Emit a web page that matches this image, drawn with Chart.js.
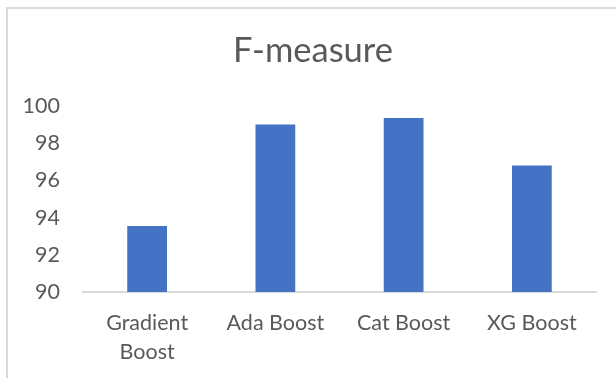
<!DOCTYPE html>
<html>
<head>
<meta charset="utf-8">
<script src="https://cdn.jsdelivr.net/npm/chart.js@4.4.0/dist/chart.umd.min.js"></script>
<style>
  html, body { margin: 0; padding: 0; background: #fff; }
  #wrap { position: relative; width: 616px; height: 378px; }
  #frame { position: absolute; left: 6px; top: 7px; right: 0; bottom: 0;
           border-left: 2px solid #d9d9d9; border-top: 2px solid #d9d9d9; }
  canvas { position: absolute; left: 0; top: 0; }
</style>
</head>
<body>
<div id="wrap">
  <div id="frame"></div>
  <canvas id="chart" width="616" height="378"></canvas>
</div>
<script>
const categories = [['Gradient', 'Boost'], 'Ada Boost', 'Cat Boost', 'XG Boost'];
const fMeasure = [93.55, 99.0, 99.35, 96.8];
const yTicks = { min: 90, max: 100, step: 2 };

const textColor = '#595959';
const fontFamily = 'Lato, "Open Sans", sans-serif';

const ctx = document.getElementById('chart');
new Chart(ctx, {
  type: 'bar',
  data: {
    labels: categories,
    datasets: [{
      label: 'F-measure',
      data: fMeasure,
      backgroundColor: '#4472C4',
      borderWidth: 0,
      barPercentage: 0.31,
      categoryPercentage: 1
    }]
  },
  options: {
    responsive: false,
    animation: false,
    layout: { padding: { left: 10, right: 0, top: 0, bottom: 0 } },
    plugins: {
      legend: { display: false },
      tooltip: { enabled: false },
      title: {
        display: true,
        text: 'F-measure',
        color: textColor,
        font: { family: fontFamily, size: 34.5, weight: 'normal', lineHeight: 1.2 },
        padding: { top: 30, bottom: 34.6 }
      }
    },
    scales: {
      x: {
        grid: { display: false, drawTicks: false },
        border: { display: true, color: '#d9d9d9', width: 2 },
        ticks: {
          color: textColor,
          font: { family: fontFamily, size: 21.5, lineHeight: 1.35 },
          padding: 16.5,
          maxRotation: 0
        },
        afterFit: s => { s.height = 86; }
      },
      y: {
        min: yTicks.min,
        max: yTicks.max,
        grid: { display: false, drawTicks: false },
        border: { display: false },
        ticks: {
          stepSize: yTicks.step,
          color: textColor,
          font: { family: fontFamily, size: 21.5 },
          padding: 23
        },
        afterFit: s => { s.width = 73; }
      },
      // empty right-hand spacer so the plot ends where the reference does
      yRight: {
        position: 'right',
        grid: { display: false, drawTicks: false },
        border: { display: false },
        ticks: { display: false },
        afterFit: s => { s.width = 20; }
      }
    }
  }
});
</script>
</body>
</html>
